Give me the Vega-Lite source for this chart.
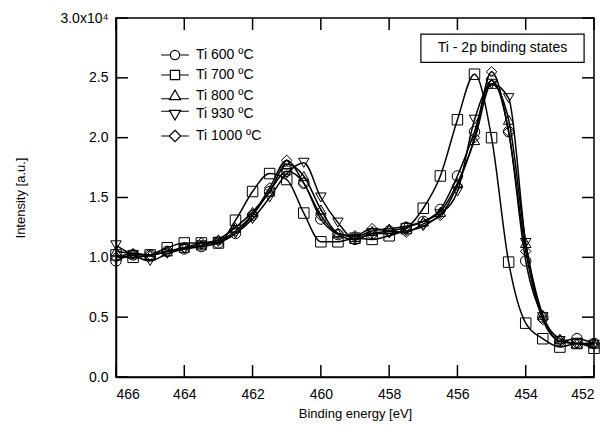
{
  "$schema": "https://vega.github.io/schema/vega-lite/v6.json",
  "width": 478,
  "height": 359,
  "autosize": "none",
  "padding": {"left": 116, "top": 18, "right": 14, "bottom": 55},
  "background": "white",
  "config": {
    "view": {"stroke": "black", "strokeWidth": 1.5},
    "font": "Liberation Sans",
    "axis": {"grid": false, "domainColor": "black", "domainWidth": 1.5, "labelColor": "black", "titleColor": "black", "labelFont": "Liberation Sans", "titleFont": "Liberation Sans", "titleFontWeight": "normal"}
  },
  "datasets": {
    "spectra": [
      {"series": "Ti 600 ºC", "be": 466, "I": 0.97}, {"series": "Ti 600 ºC", "be": 465.5, "I": 1.02}, {"series": "Ti 600 ºC", "be": 465, "I": 1.02}, {"series": "Ti 600 ºC", "be": 464.5, "I": 1.05}, {"series": "Ti 600 ºC", "be": 464, "I": 1.07}, {"series": "Ti 600 ºC", "be": 463.5, "I": 1.09}, {"series": "Ti 600 ºC", "be": 463, "I": 1.12}, {"series": "Ti 600 ºC", "be": 462.5, "I": 1.2}, {"series": "Ti 600 ºC", "be": 462, "I": 1.35}, {"series": "Ti 600 ºC", "be": 461.5, "I": 1.55}, {"series": "Ti 600 ºC", "be": 461, "I": 1.72}, {"series": "Ti 600 ºC", "be": 460.5, "I": 1.62}, {"series": "Ti 600 ºC", "be": 460, "I": 1.32}, {"series": "Ti 600 ºC", "be": 459.5, "I": 1.19}, {"series": "Ti 600 ºC", "be": 459, "I": 1.15}, {"series": "Ti 600 ºC", "be": 458.5, "I": 1.2}, {"series": "Ti 600 ºC", "be": 458, "I": 1.22}, {"series": "Ti 600 ºC", "be": 457.5, "I": 1.25}, {"series": "Ti 600 ºC", "be": 457, "I": 1.3}, {"series": "Ti 600 ºC", "be": 456.5, "I": 1.4}, {"series": "Ti 600 ºC", "be": 456, "I": 1.68}, {"series": "Ti 600 ºC", "be": 455.5, "I": 2.05}, {"series": "Ti 600 ºC", "be": 455, "I": 2.48}, {"series": "Ti 600 ºC", "be": 454.5, "I": 2.05}, {"series": "Ti 600 ºC", "be": 454, "I": 0.97}, {"series": "Ti 600 ºC", "be": 453.5, "I": 0.5}, {"series": "Ti 600 ºC", "be": 453, "I": 0.3}, {"series": "Ti 600 ºC", "be": 452.5, "I": 0.32}, {"series": "Ti 600 ºC", "be": 452, "I": 0.28},
      {"series": "Ti 700 ºC", "be": 466, "I": 1.02}, {"series": "Ti 700 ºC", "be": 465.5, "I": 1.0}, {"series": "Ti 700 ºC", "be": 465, "I": 1.02}, {"series": "Ti 700 ºC", "be": 464.5, "I": 1.08}, {"series": "Ti 700 ºC", "be": 464, "I": 1.12}, {"series": "Ti 700 ºC", "be": 463.5, "I": 1.12}, {"series": "Ti 700 ºC", "be": 463, "I": 1.12}, {"series": "Ti 700 ºC", "be": 462.5, "I": 1.31}, {"series": "Ti 700 ºC", "be": 462, "I": 1.55}, {"series": "Ti 700 ºC", "be": 461.5, "I": 1.7}, {"series": "Ti 700 ºC", "be": 461, "I": 1.65}, {"series": "Ti 700 ºC", "be": 460.5, "I": 1.37}, {"series": "Ti 700 ºC", "be": 460, "I": 1.13}, {"series": "Ti 700 ºC", "be": 459.5, "I": 1.13}, {"series": "Ti 700 ºC", "be": 459, "I": 1.16}, {"series": "Ti 700 ºC", "be": 458.5, "I": 1.15}, {"series": "Ti 700 ºC", "be": 458, "I": 1.18}, {"series": "Ti 700 ºC", "be": 457.5, "I": 1.24}, {"series": "Ti 700 ºC", "be": 457, "I": 1.41}, {"series": "Ti 700 ºC", "be": 456.5, "I": 1.68}, {"series": "Ti 700 ºC", "be": 456, "I": 2.15}, {"series": "Ti 700 ºC", "be": 455.5, "I": 2.53}, {"series": "Ti 700 ºC", "be": 455, "I": 2.0}, {"series": "Ti 700 ºC", "be": 454.5, "I": 0.96}, {"series": "Ti 700 ºC", "be": 454, "I": 0.45}, {"series": "Ti 700 ºC", "be": 453.5, "I": 0.32}, {"series": "Ti 700 ºC", "be": 453, "I": 0.25}, {"series": "Ti 700 ºC", "be": 452.5, "I": 0.28}, {"series": "Ti 700 ºC", "be": 452, "I": 0.24},
      {"series": "Ti 800 ºC", "be": 466, "I": 1.05}, {"series": "Ti 800 ºC", "be": 465.5, "I": 1.03}, {"series": "Ti 800 ºC", "be": 465, "I": 1.02}, {"series": "Ti 800 ºC", "be": 464.5, "I": 1.05}, {"series": "Ti 800 ºC", "be": 464, "I": 1.08}, {"series": "Ti 800 ºC", "be": 463.5, "I": 1.1}, {"series": "Ti 800 ºC", "be": 463, "I": 1.15}, {"series": "Ti 800 ºC", "be": 462.5, "I": 1.25}, {"series": "Ti 800 ºC", "be": 462, "I": 1.38}, {"series": "Ti 800 ºC", "be": 461.5, "I": 1.55}, {"series": "Ti 800 ºC", "be": 461, "I": 1.78}, {"series": "Ti 800 ºC", "be": 460.5, "I": 1.68}, {"series": "Ti 800 ºC", "be": 460, "I": 1.4}, {"series": "Ti 800 ºC", "be": 459.5, "I": 1.2}, {"series": "Ti 800 ºC", "be": 459, "I": 1.17}, {"series": "Ti 800 ºC", "be": 458.5, "I": 1.22}, {"series": "Ti 800 ºC", "be": 458, "I": 1.24}, {"series": "Ti 800 ºC", "be": 457.5, "I": 1.26}, {"series": "Ti 800 ºC", "be": 457, "I": 1.3}, {"series": "Ti 800 ºC", "be": 456.5, "I": 1.38}, {"series": "Ti 800 ºC", "be": 456, "I": 1.62}, {"series": "Ti 800 ºC", "be": 455.5, "I": 1.98}, {"series": "Ti 800 ºC", "be": 455, "I": 2.45}, {"series": "Ti 800 ºC", "be": 454.5, "I": 2.15}, {"series": "Ti 800 ºC", "be": 454, "I": 1.12}, {"series": "Ti 800 ºC", "be": 453.5, "I": 0.52}, {"series": "Ti 800 ºC", "be": 453, "I": 0.32}, {"series": "Ti 800 ºC", "be": 452.5, "I": 0.28}, {"series": "Ti 800 ºC", "be": 452, "I": 0.28},
      {"series": "Ti 930 ºC", "be": 466, "I": 1.1}, {"series": "Ti 930 ºC", "be": 465.5, "I": 1.02}, {"series": "Ti 930 ºC", "be": 465, "I": 0.97}, {"series": "Ti 930 ºC", "be": 464.5, "I": 1.03}, {"series": "Ti 930 ºC", "be": 464, "I": 1.07}, {"series": "Ti 930 ºC", "be": 463.5, "I": 1.1}, {"series": "Ti 930 ºC", "be": 463, "I": 1.13}, {"series": "Ti 930 ºC", "be": 462.5, "I": 1.2}, {"series": "Ti 930 ºC", "be": 462, "I": 1.32}, {"series": "Ti 930 ºC", "be": 461.5, "I": 1.5}, {"series": "Ti 930 ºC", "be": 461, "I": 1.7}, {"series": "Ti 930 ºC", "be": 460.5, "I": 1.79}, {"series": "Ti 930 ºC", "be": 460, "I": 1.5}, {"series": "Ti 930 ºC", "be": 459.5, "I": 1.29}, {"series": "Ti 930 ºC", "be": 459, "I": 1.15}, {"series": "Ti 930 ºC", "be": 458.5, "I": 1.2}, {"series": "Ti 930 ºC", "be": 458, "I": 1.2}, {"series": "Ti 930 ºC", "be": 457.5, "I": 1.22}, {"series": "Ti 930 ºC", "be": 457, "I": 1.26}, {"series": "Ti 930 ºC", "be": 456.5, "I": 1.36}, {"series": "Ti 930 ºC", "be": 456, "I": 1.55}, {"series": "Ti 930 ºC", "be": 455.5, "I": 2.15}, {"series": "Ti 930 ºC", "be": 455, "I": 2.45}, {"series": "Ti 930 ºC", "be": 454.5, "I": 2.33}, {"series": "Ti 930 ºC", "be": 454, "I": 1.12}, {"series": "Ti 930 ºC", "be": 453.5, "I": 0.5}, {"series": "Ti 930 ºC", "be": 453, "I": 0.3}, {"series": "Ti 930 ºC", "be": 452.5, "I": 0.28}, {"series": "Ti 930 ºC", "be": 452, "I": 0.27},
      {"series": "Ti 1000 ºC", "be": 466, "I": 1.0}, {"series": "Ti 1000 ºC", "be": 465.5, "I": 1.03}, {"series": "Ti 1000 ºC", "be": 465, "I": 1.02}, {"series": "Ti 1000 ºC", "be": 464.5, "I": 1.05}, {"series": "Ti 1000 ºC", "be": 464, "I": 1.08}, {"series": "Ti 1000 ºC", "be": 463.5, "I": 1.12}, {"series": "Ti 1000 ºC", "be": 463, "I": 1.14}, {"series": "Ti 1000 ºC", "be": 462.5, "I": 1.22}, {"series": "Ti 1000 ºC", "be": 462, "I": 1.36}, {"series": "Ti 1000 ºC", "be": 461.5, "I": 1.58}, {"series": "Ti 1000 ºC", "be": 461, "I": 1.81}, {"series": "Ti 1000 ºC", "be": 460.5, "I": 1.62}, {"series": "Ti 1000 ºC", "be": 460, "I": 1.35}, {"series": "Ti 1000 ºC", "be": 459.5, "I": 1.2}, {"series": "Ti 1000 ºC", "be": 459, "I": 1.18}, {"series": "Ti 1000 ºC", "be": 458.5, "I": 1.24}, {"series": "Ti 1000 ºC", "be": 458, "I": 1.22}, {"series": "Ti 1000 ºC", "be": 457.5, "I": 1.21}, {"series": "Ti 1000 ºC", "be": 457, "I": 1.28}, {"series": "Ti 1000 ºC", "be": 456.5, "I": 1.35}, {"series": "Ti 1000 ºC", "be": 456, "I": 1.6}, {"series": "Ti 1000 ºC", "be": 455.5, "I": 2.0}, {"series": "Ti 1000 ºC", "be": 455, "I": 2.55}, {"series": "Ti 1000 ºC", "be": 454.5, "I": 2.05}, {"series": "Ti 1000 ºC", "be": 454, "I": 1.05}, {"series": "Ti 1000 ºC", "be": 453.5, "I": 0.48}, {"series": "Ti 1000 ºC", "be": 453, "I": 0.3}, {"series": "Ti 1000 ºC", "be": 452.5, "I": 0.28}, {"series": "Ti 1000 ºC", "be": 452, "I": 0.28}
    ],
    "xticks": [{"t": 466}, {"t": 464}, {"t": 462}, {"t": 460}, {"t": 458}, {"t": 456}, {"t": 454}, {"t": 452}],
    "yticks": [{"v": 0}, {"v": 0.5}, {"v": 1}, {"v": 1.5}, {"v": 2}, {"v": 2.5}, {"v": 3}],
    "note": [
      {"x1": 457.07, "x2": 452.29, "y1": 2.865, "y2": 2.63, "xc": 454.68, "yc": 2.75, "label": "Ti - 2p binding states"}
    ]
  },
  "layer": [
    {
      "data": {"name": "spectra"},
      "mark": {"type": "line", "interpolate": "monotone", "stroke": "black", "strokeWidth": 1.5},
      "encoding": {
        "x": {"field": "be", "type": "quantitative", "scale": {"domain": [466, 452], "nice": false},
          "axis": {"title": "Binding energy [eV]", "values": [466, 464, 462, 460, 458, 456, 454, 452], "ticks": false, "labelPadding": 10, "labelFontSize": 14, "titleFontSize": 13, "titlePadding": 6, "format": "d"}},
        "y": {"field": "I", "type": "quantitative", "scale": {"domain": [0, 3], "nice": false},
          "axis": {"title": "Intensity [a.u.]", "values": [0, 0.5, 1, 1.5, 2, 2.5, 3], "ticks": false, "labelPadding": 8, "labelFontSize": 14, "titleFontSize": 13, "titlePadding": 32, "labelExpr": "datum.value === 3 ? '3.0x10⁴' : format(datum.value, '.1f')"}},
        "detail": {"field": "series"}
      }
    },
    {
      "data": {"name": "xticks"},
      "mark": {"type": "rule", "stroke": "black", "strokeWidth": 1.5},
      "encoding": {"x": {"field": "t", "type": "quantitative", "axis": null}, "y": {"datum": 0, "type": "quantitative", "axis": null}, "y2": {"datum": 0.1}}
    },
    {
      "data": {"name": "xticks"},
      "mark": {"type": "rule", "stroke": "black", "strokeWidth": 1.5},
      "encoding": {"x": {"field": "t", "type": "quantitative", "axis": null}, "y": {"datum": 3, "type": "quantitative", "axis": null}, "y2": {"datum": 2.9}}
    },
    {
      "data": {"name": "yticks"},
      "mark": {"type": "rule", "stroke": "black", "strokeWidth": 1.5},
      "encoding": {"y": {"field": "v", "type": "quantitative", "axis": null}, "x": {"datum": 466, "type": "quantitative", "axis": null}, "x2": {"datum": 465.65}}
    },
    {
      "data": {"name": "yticks"},
      "mark": {"type": "rule", "stroke": "black", "strokeWidth": 1.5},
      "encoding": {"y": {"field": "v", "type": "quantitative", "axis": null}, "x": {"datum": 452, "type": "quantitative", "axis": null}, "x2": {"datum": 452.35}}
    },
    {
      "data": {"name": "spectra"},
      "mark": {"type": "point", "filled": false, "stroke": "black", "strokeWidth": 1, "size": 110, "opacity": 1},
      "encoding": {
        "x": {"field": "be", "type": "quantitative", "axis": null},
        "y": {"field": "I", "type": "quantitative", "axis": null},
        "shape": {"field": "series", "type": "nominal",
          "scale": {"domain": ["Ti 600 ºC", "Ti 700 ºC", "Ti 800 ºC", "Ti 930 ºC", "Ti 1000 ºC"], "range": ["circle", "square", "triangle-up", "triangle-down", "diamond"]},
          "legend": null
        }
      }
    },
    {
      "data": {"name": "spectra"},
      "transform": [{"filter": "datum.I > 100"}],
      "mark": {"type": "point", "filled": false, "stroke": "black"},
      "encoding": {
        "shape": {"field": "series", "type": "nominal",
          "scale": {"domain": ["Ti 600 ºC", "Ti 700 ºC", "Ti 800 ºC", "Ti 930 ºC", "Ti 1000 ºC"],
            "range": [
              "M-3,0H-1M1,0H3M1,0A1,1 0 1,1 -1,0A1,1 0 1,1 1,0",
              "M-3,0H-1M1,0H3M-1,-1H1V1H-1Z",
              "M-3,0.6H-0.85M0.85,0.6H3M0,-1.3L1.2,0.8H-1.2Z",
              "M-3,-0.6H-0.85M0.85,-0.6H3M0,1.3L1.2,-0.8H-1.2Z",
              "M-3,0H-1.25M1.25,0H3M0,-1.25L1.25,0L0,1.25L-1.25,0Z"
            ]},
          "legend": {
            "title": null, "orient": "none", "legendX": 52, "legendY": 30, "padding": 0,
            "labelFontSize": 14, "labelColor": "black", "labelOffset": 14, "rowPadding": 4,
            "symbolSize": 85, "symbolStrokeColor": "black", "symbolStrokeWidth": 1.2, "symbolFillColor": "transparent", "symbolOpacity": 1
          }
        }
      }
    },
    {
      "data": {"name": "note"},
      "mark": {"type": "rect", "fill": "white", "stroke": "black", "strokeWidth": 1.2},
      "encoding": {
        "x": {"field": "x1", "type": "quantitative", "axis": null},
        "x2": {"field": "x2"},
        "y": {"field": "y1", "type": "quantitative", "axis": null},
        "y2": {"field": "y2"}
      }
    },
    {
      "data": {"name": "note"},
      "mark": {"type": "text", "fontSize": 14, "color": "black", "align": "center", "baseline": "middle", "font": "Liberation Sans"},
      "encoding": {
        "x": {"field": "xc", "type": "quantitative", "axis": null},
        "y": {"field": "yc", "type": "quantitative", "axis": null},
        "text": {"field": "label"}
      }
    }
  ],
  "resolve": {"axis": {"x": "independent", "y": "independent"}, "scale": {"shape": "independent"}}
}
